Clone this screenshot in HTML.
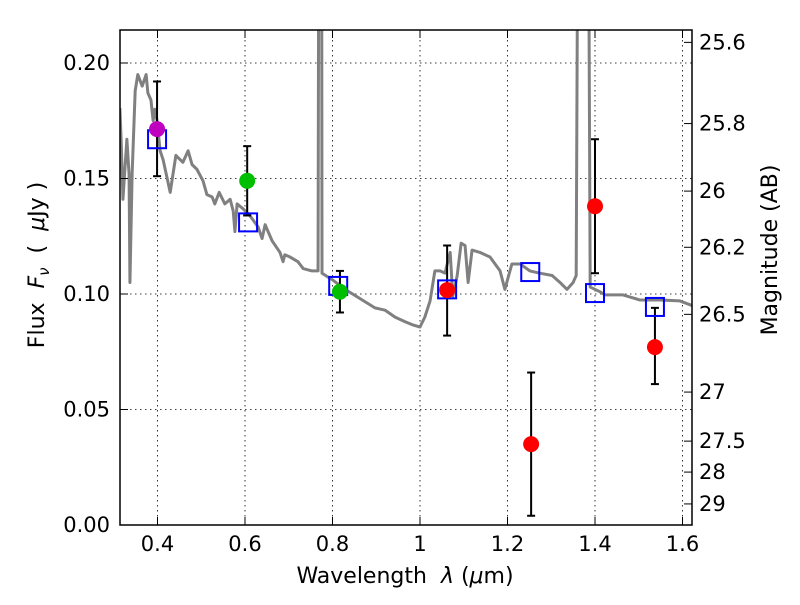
<!DOCTYPE html>
<html><head><meta charset="utf-8"><style>
body{margin:0;background:#fff;}
svg text{font-family:"DejaVu Sans","Liberation Sans",sans-serif;fill:#000;}
</style></head><body>
<svg id="chart" width="800" height="600" xmlns="http://www.w3.org/2000/svg">
<defs><clipPath id="clip"><rect x="120" y="30" width="572" height="495"/></clipPath></defs>
<g id="grid"></g>
<g id="spec" clip-path="url(#clip)"></g>
<g id="marks" clip-path="url(#clip)"></g>
<rect x="120" y="30" width="572" height="495" fill="none" stroke="#000" stroke-width="1.5"/>
<g id="axes"></g>
<text x="405" y="583" font-size="22" text-anchor="middle" xml:space="preserve">Wavelength  <tspan font-style="italic">λ</tspan> (<tspan font-style="italic">μ</tspan>m)</text>
<text transform="translate(44,265) rotate(-90)" font-size="22" text-anchor="middle" xml:space="preserve">Flux  <tspan font-style="italic">F</tspan><tspan font-style="italic" font-size="15" dy="5">ν</tspan><tspan dy="-5">  (  </tspan><tspan font-style="italic">μ</tspan>Jy )</text>
<text transform="translate(777,250) rotate(-90)" font-size="22" text-anchor="middle">Magnitude (AB)</text>
</svg>
<script>
const specLam=[0.314,0.317,0.321,0.330,0.335,0.337,0.342,0.349,0.355,0.365,0.374,0.378,0.385,0.390,0.394,0.399,0.406,0.413,0.429,0.442,0.458,0.470,0.479,0.490,0.504,0.513,0.525,0.531,0.541,0.554,0.566,0.573,0.577,0.582,0.595,0.611,0.630,0.639,0.646,0.662,0.680,0.687,0.691,0.703,0.721,0.733,0.753,0.767,0.771,0.774,0.776,0.801,0.829,0.863,0.897,0.920,0.943,0.966,0.984,1.000,1.011,1.023,1.034,1.046,1.057,1.069,1.075,1.085,1.094,1.103,1.110,1.119,1.137,1.160,1.183,1.194,1.210,1.229,1.251,1.274,1.302,1.320,1.336,1.350,1.357,1.366,1.380,1.389,1.411,1.423,1.464,1.503,1.549,1.594,1.622];
const specFlux=[0.1805,0.166,0.141,0.167,0.152,0.105,0.152,0.188,0.195,0.190,0.195,0.187,0.184,0.175,0.180,0.175,0.162,0.158,0.144,0.160,0.157,0.162,0.156,0.154,0.149,0.143,0.142,0.139,0.144,0.139,0.141,0.136,0.127,0.139,0.137,0.134,0.129,0.124,0.130,0.123,0.118,0.114,0.117,0.116,0.114,0.111,0.110,0.110,0.5,0.5,0.109,0.106,0.102,0.098,0.094,0.093,0.090,0.088,0.0866,0.0857,0.090,0.097,0.110,0.110,0.109,0.118,0.099,0.108,0.122,0.121,0.105,0.119,0.118,0.116,0.110,0.102,0.113,0.113,0.110,0.109,0.108,0.105,0.102,0.105,0.108,0.5,0.5,0.103,0.101,0.0996,0.0996,0.0974,0.0974,0.097,0.095];
const modelLam=[0.399,0.607,0.813,1.062,1.252,1.400,1.537];
const modelFlux=[0.167,0.131,0.1035,0.102,0.1095,0.1004,0.0944];
const obsLam=[0.399,0.605,0.817,1.062,1.254,1.400,1.537];
const obsFlux=[0.1714,0.149,0.101,0.1017,0.035,0.138,0.077];
const obsLo=[0.151,0.134,0.092,0.082,0.004,0.109,0.061];
const obsHi=[0.192,0.164,0.110,0.121,0.066,0.167,0.094];
const obsColor=['#bf00bf','#00bf00','#00bf00','#ff0000','#ff0000','#ff0000','#ff0000'];
const xTicks=[0.4,0.6,0.8,1.0,1.2,1.4,1.6];
const xTickLabels=['0.4','0.6','0.8','1','1.2','1.4','1.6'];
const yTicks=[0,0.05,0.10,0.15,0.20];
const yTickLabels=['0.00','0.05','0.10','0.15','0.20'];
const magTicks=[25.6,25.8,26,26.2,26.5,27,27.5,28,29];
const magTickLabels=['25.6','25.8','26','26.2','26.5','27','27.5','28','29'];

const X=v=>157.5+(v-0.4)*437.5;
const Y=v=>525-v*2310;
const NS='http://www.w3.org/2000/svg';
function mk(tag,attrs,parent){const e=document.createElementNS(NS,tag);for(const k in attrs)e.setAttribute(k,attrs[k]);parent.appendChild(e);return e;}
const grid=document.getElementById('grid'),axes=document.getElementById('axes'),spec=document.getElementById('spec'),marks=document.getElementById('marks');

xTicks.forEach((t,i)=>{
  const g=mk('line',{x1:X(t),x2:X(t),y1:30,y2:525,stroke:'#000','stroke-width':0.8,'stroke-dasharray':'1.5,3.5'},grid);
  
  
  mk('line',{x1:X(t),x2:X(t),y1:525,y2:517,stroke:'#000'},axes);
  mk('line',{x1:X(t),x2:X(t),y1:30,y2:38,stroke:'#000'},axes);
  const tx=mk('text',{x:X(t),y:551,'font-size':21,'text-anchor':'middle'},axes);
  tx.textContent=xTickLabels[i];
  
  
});
yTicks.forEach((t,i)=>{
  const g=mk('line',{x1:120,x2:692,y1:Y(t),y2:Y(t),stroke:'#000','stroke-width':0.8,'stroke-dasharray':'1.5,3.5'},grid);
  
  
  mk('line',{x1:120,x2:128,y1:Y(t),y2:Y(t),stroke:'#000'},axes);
  const tx=mk('text',{x:110,y:Y(t)+7,'font-size':21,'text-anchor':'end'},axes);
  tx.textContent=yTickLabels[i];
  
  
});
magTicks.forEach((m,i)=>{
  const y=Y(Math.pow(10,(23.9-m)/2.5));
  mk('line',{x1:684,x2:692,y1:y,y2:y,stroke:'#000'},axes);
  const tx=mk('text',{x:699,y:y+7,'font-size':21},axes);
  tx.textContent=magTickLabels[i];
  
  
});

const sp=mk('polyline',{points:specLam.map((l,i)=>X(l)+','+Y(specFlux[i])).join(' '),fill:'none',stroke:'#808080','stroke-width':3,'stroke-linejoin':'round'},spec);



obsLam.forEach((l,i)=>{
  const x=X(l);
  const eb=mk('g',{stroke:'#000','stroke-width':2},marks);
  
  
  mk('line',{x1:x,x2:x,y1:Y(obsLo[i]),y2:Y(obsHi[i])},eb);
  mk('line',{x1:x-4,x2:x+4,y1:Y(obsLo[i]),y2:Y(obsLo[i])},eb);
  mk('line',{x1:x-4,x2:x+4,y1:Y(obsHi[i]),y2:Y(obsHi[i])},eb);
});
modelLam.forEach((l,i)=>{
  const r=mk('rect',{x:X(l)-9,y:Y(modelFlux[i])-9,width:18,height:18,fill:'none',stroke:'#0000ff','stroke-width':2},marks);
  
  
});
obsLam.forEach((l,i)=>{
  const c=mk('circle',{cx:X(l),cy:Y(obsFlux[i]),r:8,fill:obsColor[i]},marks);
  
  
});
</script>
</body></html>
